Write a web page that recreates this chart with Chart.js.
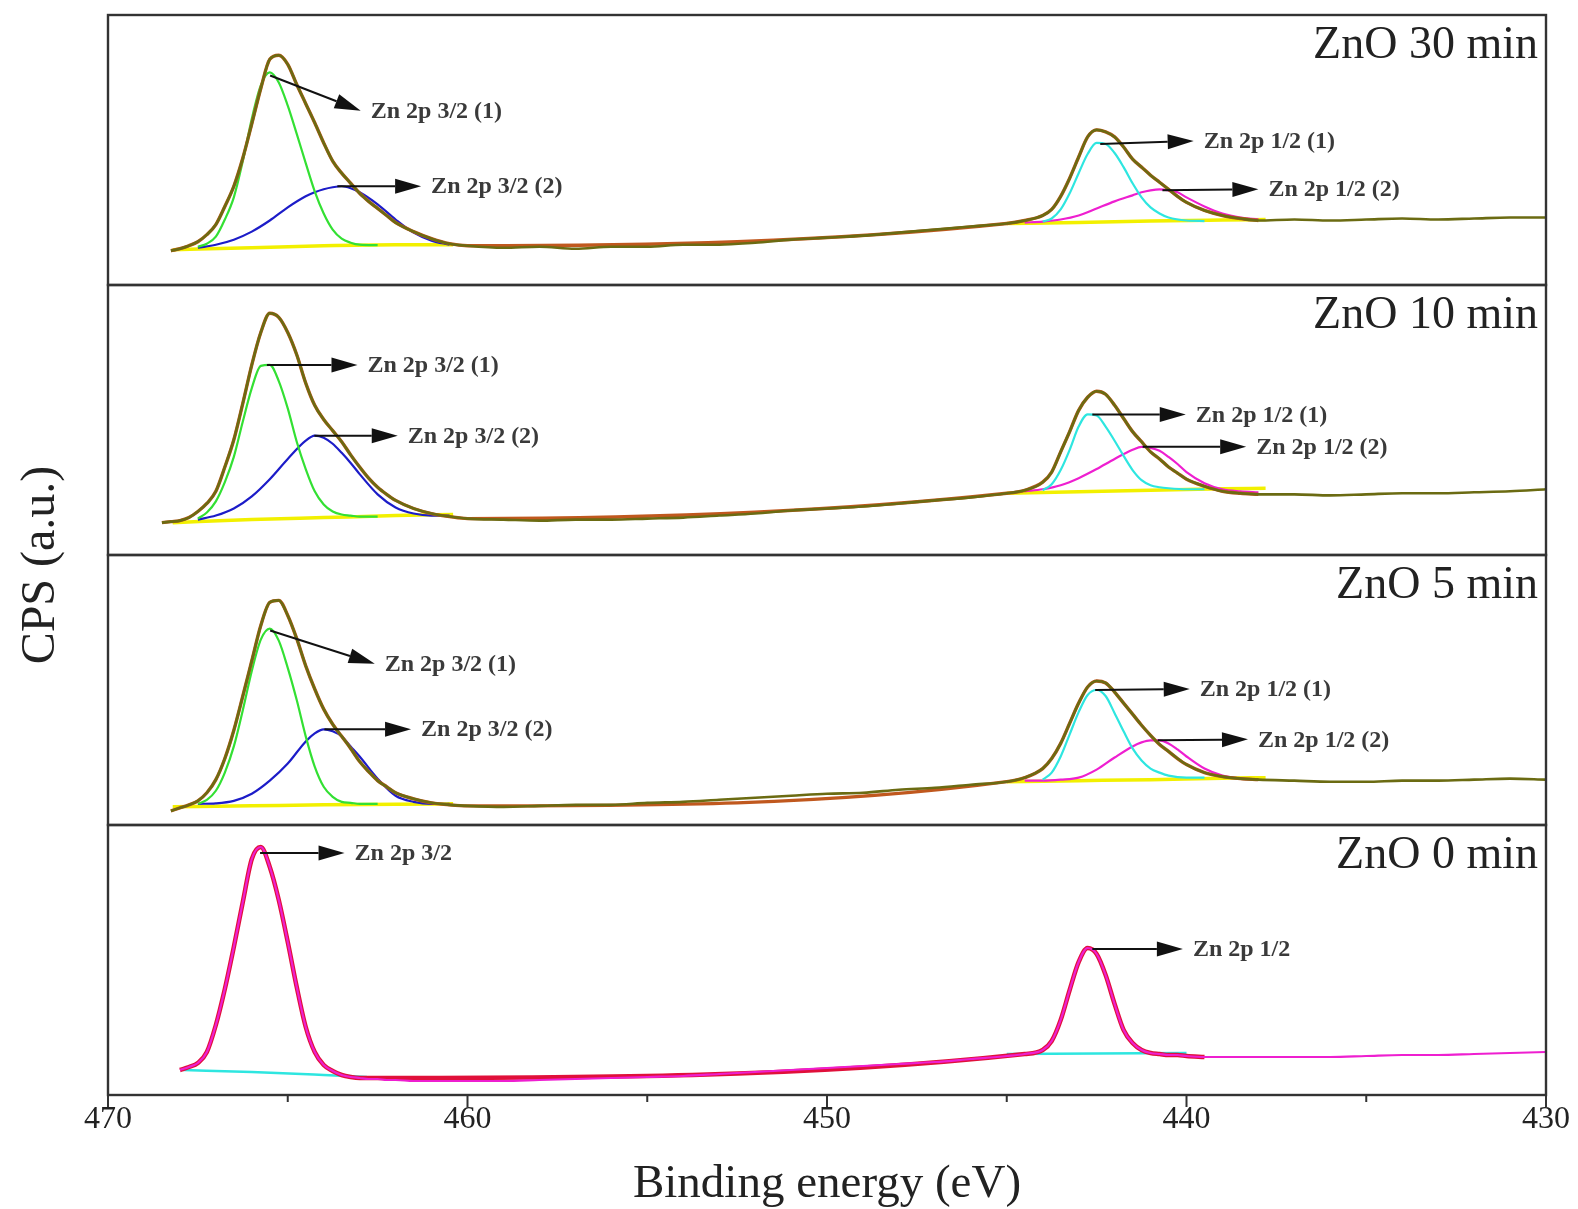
<!DOCTYPE html>
<html>
<head>
<meta charset="utf-8">
<script src="https://cdn.jsdelivr.net/npm/chart.js@4.4.1/dist/chart.umd.min.js"></script>
<style>
  body { margin: 0; background: #fff; }
  #wrap { width: 1578px; height: 1209px; }
</style>
</head>
<body>
<div id="wrap"><canvas id="xps" width="1578" height="1209"></canvas></div>
<script>
// Zn 2p XPS spectra, four ZnO samples stacked (top: 30 min, bottom: 0 min)
// intensities are arbitrary units, each panel has its own scale

const panelIds = ["p30", "p10", "p5", "p0"];
const panelNames = ["ZnO 30 min", "ZnO 10 min", "ZnO 5 min", "ZnO 0 min"];
const panelMax = [268, 267, 268, 270];
const xTicks = [470, 460, 450, 440, 430];

// common energy grid for the measured spectra (eV)
const envE = [468.5, 468.25, 468, 467.75, 467.5, 467.25, 467, 466.75, 466.5, 466.25, 466, 465.75,
  465.5, 465.25, 465, 464.75, 464.5, 464.25, 464, 463.75, 463.5, 463.25, 463, 462.75, 462.5,
  462.25, 462, 461.5, 461, 460.5, 460, 459, 458, 457, 456, 455, 454, 453, 452, 451, 450, 449,
  448, 447, 446, 445, 444.5, 444, 443.75, 443.5, 443.25, 443, 442.75, 442.5, 442.25, 442,
  441.75, 441.5, 441.25, 441, 440.75, 440.5, 440.25, 440, 439.5, 439, 438.5, 438, 437, 436,
  435, 434, 433, 432, 431, 430];

// measured spectra
const spec30 = [null, 34, 36, 39, 43, 50, 60, 78, 98, 126, 160, 195, 224, 228, 219, 199, 180, 161,
  141, 123, 111, 101, 91, 83, 76, 69, 62, 53, 46, 41, 39, 37, 38, 36, 38, 38, 40, 40, 42, 45, 47,
  49, 52, 55, 58, 61, 64, 69, 75, 88, 106, 127, 147, 154, 152, 147, 137, 125, 117, 109, 102, 95,
  88, 82, 74, 69, 66, 64, 65, 64, 65, 66, 65, 66, 67, 67];
const spec10 = [32, 33, 34, 37, 43, 51, 63, 87, 114, 150, 188, 220, 239, 235, 220, 198, 170, 148,
  134, 123, 112, 99, 87, 76, 67, 60, 54, 46, 41, 38, 36, 35, 34, 35, 35, 36, 37, 39, 41, 44, 46,
  48, 51, 54, 57, 61, 64, 72, 82, 102, 122, 143, 156, 162, 159, 148, 135, 122, 112, 102, 95, 87,
  81, 75, 68, 63, 61, 60, 60, 59, 60, 61, 61, 62, 63, 65];
const spec5 = [null, 14, 17, 20, 24, 32, 45, 66, 94, 128, 163, 198, 221, 223, 208, 185, 158, 135,
  115, 100, 88, 76, 63, 53, 44, 38, 32, 26, 22, 20, 19, 18, 19, 20, 20, 22, 23, 25, 27, 29, 31,
  32, 35, 37, 40, 43, 47, 56, 66, 81, 101, 121, 137, 143, 141, 132, 121, 110, 99, 89, 80, 73, 66,
  60, 52, 48, 46, 45, 44, 43, 43, 44, 44, 45, 46, 45];
const spec0 = [null, null, 25, 28, 32, 43, 70, 106, 148, 193, 236, 248, 228, 195, 153, 108, 68, 43,
  30, 24, 20, 18, 17, 16, 16, 15, 15, 14, 14, 14, 14, 14, 15, 16, 17, 18, 19, 21, 23, 25, 27, 29,
  31, 33, 36, 39, 41, 45, 54, 75, 105, 133, 147, 141, 120, 91, 65, 52, 45, 42, 41, 40, 40, 39, 38,
  38, 38, 38, 38, 38, 39, 40, 40, 41, 42, 43];

// fitted components
const e32a = [467.5, 467.25, 467, 466.75, 466.5, 466.25, 466, 465.75, 465.5, 465.25, 465, 464.75,
  464.5, 464.25, 464, 463.75, 463.5, 463.25, 463, 462.5];
const p30_32a = [38, 41, 48, 65, 87, 123, 165, 198, 211, 201, 178, 150, 121, 93, 71, 55, 46, 42, 40, 39.5];
const p10_32a = [36, 42, 53, 72, 97, 132, 165, 187, 188, 172, 145, 112, 85, 63, 50, 43, 40, 39, 38, 38];
const p5_32a = [21, 25, 34, 52, 78, 114, 153, 184, 195, 183, 156, 124, 88, 58, 38, 28, 23, 22, 21, 21];

const e32b = [467.5, 467, 466.5, 466, 465.5, 465, 464.5, 464.25, 464, 463.75, 463.5, 463.25, 463,
  462.5, 462, 461.5, 461, 460.5];
const p30_32b = [37, 40, 45, 53, 64, 77, 88, 92, 95, 97, 98, 96, 92, 80, 65, 52, 44, 40];
const p10_32b = [35, 39, 46, 58, 75, 95, 113, 118, 116, 110, 101, 91, 80, 60, 47, 41, 39, 39];
const p5_32b = [21, 21.5, 24, 31, 44, 61, 83, 91, 95, 93, 88, 78, 68, 46, 29, 23, 21, 21];

const e12a = [444, 443.75, 443.5, 443.25, 443, 442.75, 442.5, 442.25, 442, 441.75, 441.5, 441.25,
  441, 440.75, 440.5, 440, 439.5];
const p30_12a = [63, 66, 75, 91, 111, 130, 141, 140, 131, 117, 101, 87, 77, 71, 67, 64, 63.5];
const p10_12a = [64, 70, 84, 104, 127, 139, 138, 127, 113, 98, 84, 74, 69, 67, 66, 65, 65];
const p5_12a = [45, 52, 68, 90, 112, 129, 134, 128, 111, 93, 76, 64, 56, 52, 49, 47, 47];

const e12b = [444.5, 444, 443.5, 443, 442.5, 442, 441.5, 441.25, 441, 440.75, 440.5, 440.25, 440,
  439.5, 439, 438.5, 438];
const p30_12b = [62, 63, 65, 69, 76, 83, 89, 92, 94, 95, 94, 92, 87, 78, 71, 67, 65];
const p10_12b = [63, 65, 69, 76, 85, 95, 104, 107, 106, 103, 97, 90, 82, 71, 65, 63, 62];
const p5_12b = [44, 44, 45, 47, 55, 67, 78, 82, 84, 84, 81, 75, 68, 56, 49, 46, 45];

// backgrounds
const eBgL = [468.2, 466, 464, 462, 460.4];
const p30_bgL = [35, 37, 39, 40, 40];
const p10_bgL = [32, 35, 37, 39, 40];
const p5_bgL = [18, 19, 20, 20.5, 21];
const eBgR = [445, 443, 441, 439, 437.8];
const p30_bgR = [61, 62, 63.5, 64.5, 65];
const p10_bgR = [61, 62.5, 64, 65.5, 66];
const p5_bgR = [43, 44, 45, 46.5, 47];
const e0BgL = [467.9, 466, 464, 462.8];
const p0_bgL = [25, 23, 20, 18];
const e0BgR = [445, 442.5, 440];
const p0_bgR = [41, 41.5, 42];

// peak labels: [from eV, from cps, to eV, to cps, text]
const labels30 = [
  [465.49, 208, 462.97, 173, "Zn 2p 3/2 (1)"],
  [463.62, 98, 461.29, 98, "Zn 2p 3/2 (2)"],
  [442.40, 140, 439.80, 143, "Zn 2p 1/2 (1)"],
  [440.67, 94, 438.00, 95, "Zn 2p 1/2 (2)"]
];
const labels10 = [
  [465.58, 188, 463.06, 188, "Zn 2p 3/2 (1)"],
  [464.26, 118, 461.94, 118, "Zn 2p 3/2 (2)"],
  [442.62, 139, 440.02, 139, "Zn 2p 1/2 (1)"],
  [441.22, 107, 438.34, 107, "Zn 2p 1/2 (2)"]
];
const labels5 = [
  [465.49, 193, 462.58, 160, "Zn 2p 3/2 (1)"],
  [463.98, 95, 461.57, 95, "Zn 2p 3/2 (2)"],
  [442.54, 134, 439.91, 135, "Zn 2p 1/2 (1)"],
  [440.80, 84, 438.29, 85, "Zn 2p 1/2 (2)"]
];
const labels0 = [
  [465.77, 242, 463.42, 242, "Zn 2p 3/2"],
  [442.62, 146, 440.10, 146, "Zn 2p 1/2"]
];
const panelLabels = [labels30, labels10, labels5, labels0];

// colours
const cData = "#6b6b12";
const cFit = "#c0581e";
const cGreen = "#33e033";
const cBlue = "#1c1cc8";
const cYellow = "#f2f000";
const cCyan = "#2ee6e0";
const cMagenta = "#ee1fd0";
const cRed = "#e0103a";

function makeLine(panel, es, vs, color, width, order) {
  const pts = [];
  for (let i = 0; i < es.length; i++) {
    if (vs[i] !== null) pts.push({ x: es[i], y: vs[i] });
  }
  return {
    data: pts,
    yAxisID: panel,
    borderColor: color,
    borderWidth: width,
    pointRadius: 0,
    fill: false,
    cubicInterpolationMode: "monotone",
    order: order,
  };
}

// only the peak regions of a spectrum carry the fitted envelope
function peakPart(vs, ranges) {
  return vs.map((v, i) => {
    const e = envE[i];
    return ranges.some((r) => e <= r[0] && e >= r[1]) ? v : null;
  });
}

const fitRanges = [[468.5, 460], [445, 437.5]];
const fitRanges0 = [[468.5, 463], [444.5, 439.5]];

const datasets = [];
[["p30", spec30, p30_32a, p30_32b, p30_12a, p30_12b, p30_bgL, p30_bgR],
 ["p10", spec10, p10_32a, p10_32b, p10_12a, p10_12b, p10_bgL, p10_bgR],
 ["p5", spec5, p5_32a, p5_32b, p5_12a, p5_12b, p5_bgL, p5_bgR]].forEach((p) => {
  datasets.push(makeLine(p[0], envE, p[1], cData, 2.6, 1));
  datasets.push(makeLine(p[0], envE, peakPart(p[1], fitRanges), cFit, 3.4, 2));
  datasets.push(makeLine(p[0], e32a, p[2], cGreen, 2.2, 3));
  datasets.push(makeLine(p[0], e32b, p[3], cBlue, 2.2, 3));
  datasets.push(makeLine(p[0], e12a, p[4], cCyan, 2.2, 3));
  datasets.push(makeLine(p[0], e12b, p[5], cMagenta, 2.2, 3));
  datasets.push(makeLine(p[0], eBgL, p[6], cYellow, 3.5, 4));
  datasets.push(makeLine(p[0], eBgR, p[7], cYellow, 3.5, 4));
});
datasets.push(makeLine("p0", envE, spec0, cMagenta, 2.2, 1));
datasets.push(makeLine("p0", envE, peakPart(spec0, fitRanges0), cRed, 4.5, 2));
datasets.push(makeLine("p0", e0BgL, p0_bgL, cCyan, 2.5, 4));
datasets.push(makeLine("p0", e0BgR, p0_bgR, cCyan, 2.5, 4));

// y scales, stacked; the last one defined sits on top
const scales = {
  x: {
    type: "linear",
    min: 430,
    max: 470,
    reverse: true,
    afterBuildTicks: (s) => { s.ticks = xTicks.map((v) => ({ value: v })); },
    afterFit: (s) => { s.height = 114; },
    grid: { display: false, drawTicks: false },
    border: { display: false },
    ticks: {
      color: "#222",
      padding: 5,
      maxRotation: 0,
      font: { family: "Liberation Serif", size: 32 },
    },
    title: {
      display: true,
      text: "Binding energy (eV)",
      color: "#222",
      padding: { top: 0, bottom: 1 },
      font: { family: "Liberation Serif", size: 47, lineHeight: 1 },
    },
  },
};
for (let i = panelIds.length - 1; i >= 0; i--) {
  scales[panelIds[i]] = {
    type: "linear",
    position: "left",
    stack: "panels",
    stackWeight: 1,
    min: 0,
    max: panelMax[i],
    display: false,
  };
}

function drawArrow(ctx, x1, y1, x2, y2) {
  const ang = Math.atan2(y2 - y1, x2 - x1);
  const hl = 26, hw = 7.5;
  const bx = x2 - hl * Math.cos(ang);
  const by = y2 - hl * Math.sin(ang);
  ctx.beginPath();
  ctx.moveTo(x1, y1);
  ctx.lineTo(bx, by);
  ctx.stroke();
  ctx.beginPath();
  ctx.moveTo(x2, y2);
  ctx.lineTo(bx - hw * Math.sin(ang), by + hw * Math.cos(ang));
  ctx.lineTo(bx + hw * Math.sin(ang), by - hw * Math.cos(ang));
  ctx.closePath();
  ctx.fill();
}

const xpsDecor = {
  id: "xpsDecor",
  afterDatasetsDraw(chart) {
    const ctx = chart.ctx;
    const area = chart.chartArea;
    const xs = chart.scales.x;
    ctx.save();

    // panel frames
    ctx.strokeStyle = "#333";
    ctx.lineWidth = 2.4;
    panelIds.forEach((id) => {
      const s = chart.scales[id];
      ctx.strokeRect(area.left, s.top, area.right - area.left, s.bottom - s.top);
    });

    // bottom axis ticks, major every 10 eV, minor every 5
    ctx.lineWidth = 2;
    for (let e = 430; e <= 470; e += 5) {
      const px = xs.getPixelForValue(e);
      const len = e % 10 === 0 ? 12 : 7;
      ctx.beginPath();
      ctx.moveTo(px, area.bottom);
      ctx.lineTo(px, area.bottom + len);
      ctx.stroke();
    }

    // peak arrows and labels
    ctx.strokeStyle = "#111";
    ctx.fillStyle = "#111";
    ctx.lineWidth = 2;
    panelIds.forEach((id, i) => {
      const ys = chart.scales[id];
      panelLabels[i].forEach((a) => {
        const x1 = xs.getPixelForValue(a[0]);
        const y1 = ys.getPixelForValue(a[1]);
        const x2 = xs.getPixelForValue(a[2]);
        const y2 = ys.getPixelForValue(a[3]);
        drawArrow(ctx, x1, y1, x2, y2);
        ctx.save();
        ctx.fillStyle = "#3a3a3a";
        ctx.font = "bold 24px 'Liberation Serif'";
        ctx.textAlign = "left";
        ctx.textBaseline = "middle";
        ctx.fillText(a[4], x2 + 10, y2 + 1);
        ctx.restore();
      });
    });

    // sample names
    ctx.fillStyle = "#222";
    ctx.font = "46px 'Liberation Serif'";
    ctx.textAlign = "right";
    ctx.textBaseline = "middle";
    panelIds.forEach((id, i) => {
      const s = chart.scales[id];
      ctx.fillText(panelNames[i], area.right - 8, s.top + 31);
    });

    // y axis title
    ctx.translate(41, (area.top + area.bottom) / 2 + 10);
    ctx.rotate(-Math.PI / 2);
    ctx.textAlign = "center";
    ctx.font = "48px 'Liberation Serif'";
    ctx.fillText("CPS (a.u.)", 0, 0);
    ctx.restore();
  },
};

new Chart(document.getElementById("xps"), {
  type: "line",
  data: { datasets: datasets },
  options: {
    responsive: false,
    animation: false,
    devicePixelRatio: 1,
    layout: { padding: { left: 108, right: 32, top: 15, bottom: 0 } },
    plugins: { legend: { display: false }, tooltip: { enabled: false } },
    scales: scales,
  },
  plugins: [xpsDecor],
});
</script>
</body>
</html>
